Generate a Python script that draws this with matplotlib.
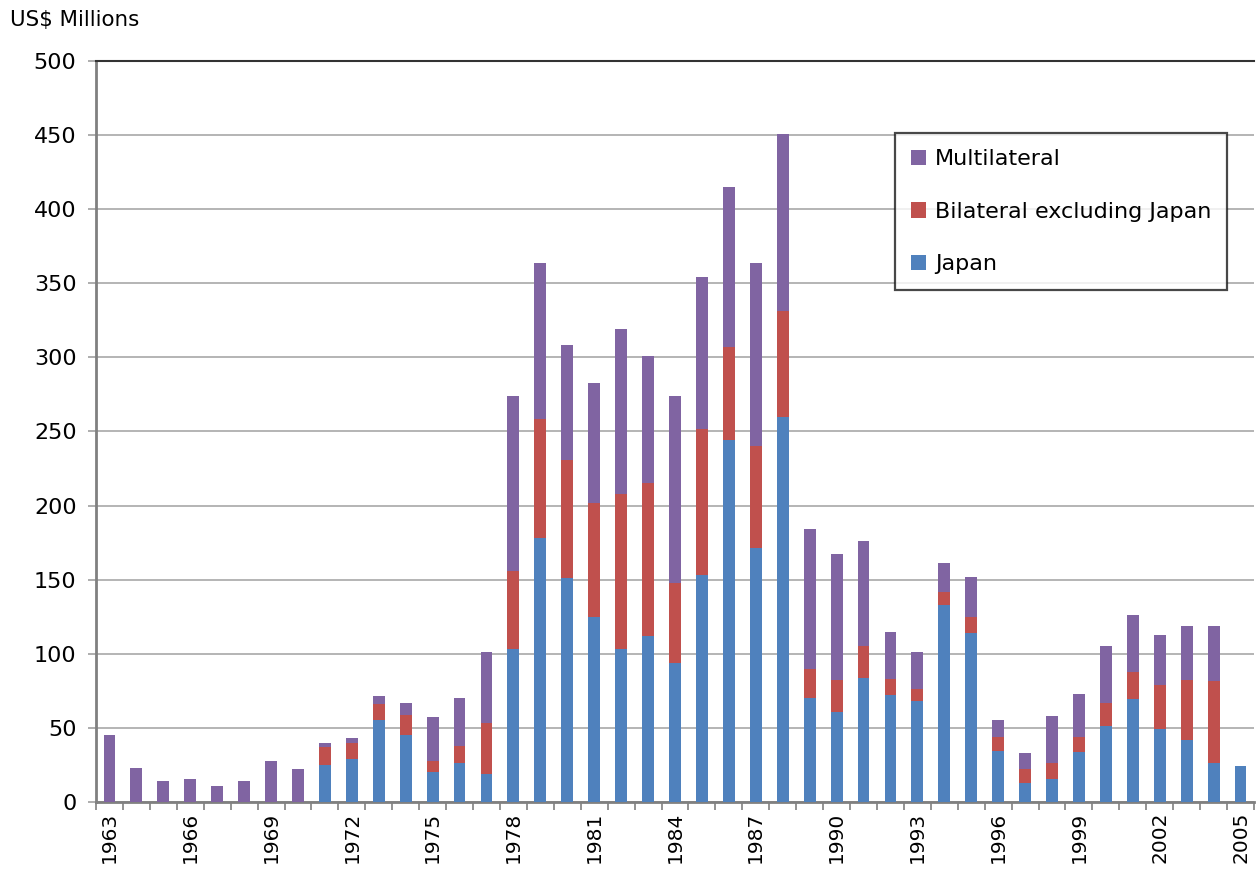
import matplotlib
matplotlib.use("Agg")
import matplotlib.pyplot as plt
import numpy as np

plt.rcParams['font.family'] = ['DejaVu Sans']

# years 1963-2005
years = list(range(1963, 2006))

# US$ millions
japan = [0, 0, 0, 0, 0, 0, 0, 0, 25, 29,
         55, 45.5, 20.5, 26.5, 19, 103, 178, 151, 125, 103,
         112, 94, 153, 244, 171.5, 259.5, 70.5, 61, 84, 72,
         68, 133, 114, 34.5, 13, 15.5, 34, 51.5, 69.5, 49,
         42, 26.5, 24.5]
bilateral = [0, 0, 0, 0, 0, 0, 0, 0, 12, 10.5,
             11, 13, 7, 11.5, 34.5, 53, 80.5, 79.5, 77, 104.5,
             103, 54, 99, 63, 69, 72, 19, 21.5, 21, 11,
             8.5, 9, 11, 9.5, 9.5, 11, 10, 15.5, 18.5, 30,
             40.5, 55, 0]
multilateral = [45, 23, 14, 15.5, 11, 14, 28, 22, 3, 4,
                5.5, 8.5, 30, 32.5, 48, 118, 105, 78, 81, 111.5,
                86, 126, 102.5, 108, 123.5, 119.5, 94.5, 85, 71, 32,
                24.5, 19.5, 26.5, 11, 10.5, 31.5, 29, 38.5, 38.5, 33.5,
                36, 37, 0]

c_japan = '#4F81BD'
c_bilat = '#C0504D'
c_multi = '#8064A2'

fig = plt.figure(figsize=(12.57, 8.82), dpi=100)
ax = fig.add_axes([96 / 1257, 80 / 882, 1158 / 1257, 741 / 882])

x = np.arange(len(years))
japan = np.array(japan)
bilateral = np.array(bilateral)
multilateral = np.array(multilateral)

w = 0.44
b1 = ax.bar(x, japan, w, color=c_japan, label='Japan', zorder=3)
b2 = ax.bar(x, bilateral, w, bottom=japan, color=c_bilat,
            label='Bilateral excluding Japan', zorder=3)
b3 = ax.bar(x, multilateral, w, bottom=japan + bilateral, color=c_multi,
            label='Multilateral', zorder=3)

ax.set_xlim(-0.5, len(years) - 0.5)
ax.set_ylim(0, 500)
ax.set_yticks(np.arange(0, 501, 50))
ax.yaxis.grid(True, color='#a0a0a0', linewidth=1.1, zorder=0)
ax.set_axisbelow(True)

# labels every 3 years, tick marks between categories
ax.set_xticks(x[::3])
ax.set_xticklabels([str(y) for y in years[::3]], rotation=90)
ax.set_xticks(np.arange(-0.5, len(years), 1), minor=True)
ax.tick_params(axis='x', which='major', length=0, pad=7, labelsize=14.5)
ax.tick_params(axis='x', which='minor', length=6, width=1.2, color='#808080')
ax.tick_params(axis='y', length=6, width=1.2, color='#a0a0a0', pad=8, labelsize=16)

for s in ['left', 'bottom']:
    ax.spines[s].set_color('#808080')
    ax.spines[s].set_linewidth(2)
ax.spines['top'].set_color('#333333')
ax.spines['top'].set_linewidth(1.5)
ax.spines['right'].set_visible(False)

fig.text(10 / 1257, 1 - 20 / 882, 'US$ Millions', fontsize=15.4, va='center', ha='left')

leg = ax.legend(handles=[b3, b2, b1], loc='upper left',
                bbox_to_anchor=(0.690, 0.9028), fontsize=16,
                frameon=True, fancybox=False, edgecolor='#1a1a1a',
                handlelength=0.68, handleheight=0.68, handletextpad=0.4,
                labelspacing=1.47, borderpad=0.72, borderaxespad=0)
leg.get_frame().set_linewidth(1.6)

fig.savefig('out.png', dpi=100)
